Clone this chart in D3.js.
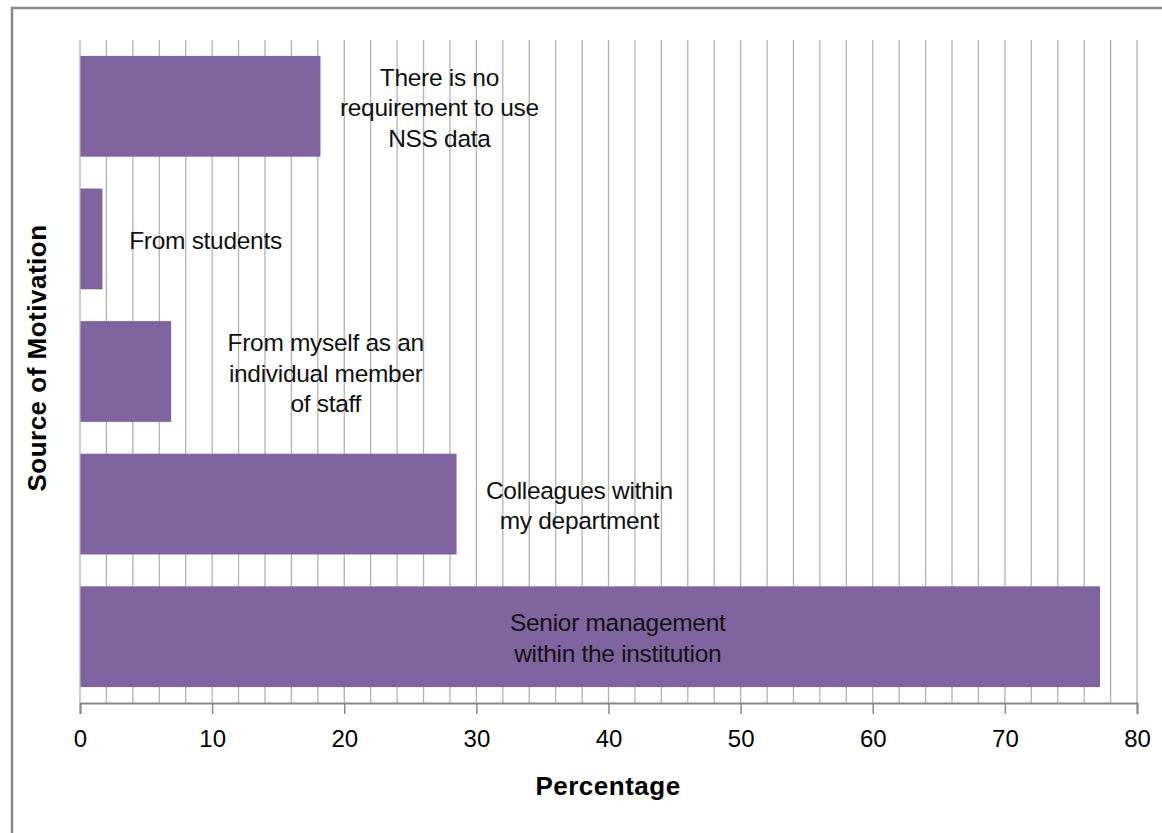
<!DOCTYPE html>
<html>
<head>
<meta charset="utf-8">
<script src="https://cdn.jsdelivr.net/npm/d3@7"></script>
<style>
  body { margin: 0; background: #fff; }
  text { font-family: "Liberation Sans", Arial, sans-serif; }
</style>
</head>
<body>
<svg id="chart" width="1162" height="833"></svg>
<script>
// data, top to bottom
const categories = [
  "There is no requirement to use NSS data",
  "From students",
  "From myself as an individual member of staff",
  "Colleagues within my department",
  "Senior management within the institution"
];
const values = [18.2, 1.7, 6.9, 28.5, 77.2];
const labelLines = [
  ["There is no", "requirement to use", "NSS data"],
  ["From students"],
  ["From myself as an", "individual member", "of staff"],
  ["Colleagues within", "my department"],
  ["Senior management", "within the institution"]
];
// label centre positions in data units (x) for each bar
const labelX = [27.2, 9.5, 18.6, 37.8, 40.7];
const xTicks = [0, 10, 20, 30, 40, 50, 60, 70, 80];

const svg = d3.select("#chart");
const margin = { top: 40, right: 25, bottom: 130, left: 80 };
const innerWidth = 1137 - margin.left;
const innerHeight = 703 - margin.top;

svg.append("rect")
  .attr("x", 12).attr("y", 8)
  .attr("width", 1200).attr("height", 900)
  .attr("fill", "none").attr("stroke", "#888").attr("stroke-width", 2.5);

const xScale = d3.scaleLinear().domain([0, 80]).range([0, innerWidth]);
const yScale = d3.scaleBand().domain(categories).range([0, innerHeight]).paddingInner(0.24).paddingOuter(0.12);

const g = svg.append("g").attr("transform", `translate(${margin.left},${margin.top})`);

// gridlines every 2
g.append("g")
  .selectAll("line")
  .data(d3.range(2, 81, 2))
  .enter()
  .append("line")
  .attr("x1", (d) => xScale(d)).attr("x2", (d) => xScale(d))
  .attr("y1", 0).attr("y2", innerHeight)
  .attr("stroke", "#b3b3b3").attr("stroke-width", 1.3);

g.selectAll("rect.bar")
  .data(values)
  .enter()
  .append("rect")
  .attr("class", "bar")
  .attr("x", 0)
  .attr("y", (d, i) => yScale(categories[i]))
  .attr("width", (d) => xScale(d))
  .attr("height", yScale.bandwidth())
  .attr("fill", "#8064a0");

// x axis
const xAxis = d3.axisBottom(xScale).tickValues(xTicks).tickSize(11).tickPadding(16);
const xAxisG = g.append("g").attr("transform", `translate(0,${innerHeight})`).call(xAxis);
xAxisG.select(".domain").attr("stroke", "#888").attr("stroke-width", 2);
xAxisG.selectAll(".tick line").attr("stroke", "#888").attr("stroke-width", 1.5);
xAxisG.selectAll(".tick text").attr("font-size", 24).attr("fill", "#000")
  .style("font-family", "Liberation Sans, Arial, sans-serif");

// left axis line
g.append("line").attr("x1", 0).attr("x2", 0).attr("y1", 0).attr("y2", innerHeight)
  .attr("stroke", "#b3b3b3").attr("stroke-width", 1.3);

// bar labels
const lineH = 30.5;
labelLines.forEach((lines, i) => {
  const cy = yScale(categories[i]) + yScale.bandwidth() / 2;
  const t = g.append("text")
    .attr("text-anchor", "middle")
    .attr("font-size", 24.5)
    .attr("fill", "#111")
    .attr("letter-spacing", "-0.3");
  lines.forEach((s, j) => {
    t.append("tspan")
      .attr("x", xScale(labelX[i]))
      .attr("y", cy + (j - (lines.length - 1) / 2) * lineH + 10)
      .text(s);
  });
});

// axis titles
svg.append("text")
  .attr("x", 608).attr("y", 795)
  .attr("text-anchor", "middle")
  .attr("font-size", 26).attr("font-weight", "bold")
  .attr("letter-spacing", "0.5")
  .text("Percentage");

svg.append("text")
  .attr("transform", "translate(46,358) rotate(-90)")
  .attr("text-anchor", "middle")
  .attr("font-size", 26).attr("font-weight", "bold")
  .attr("letter-spacing", "0.5")
  .text("Source of Motivation");
</script>
</body>
</html>
